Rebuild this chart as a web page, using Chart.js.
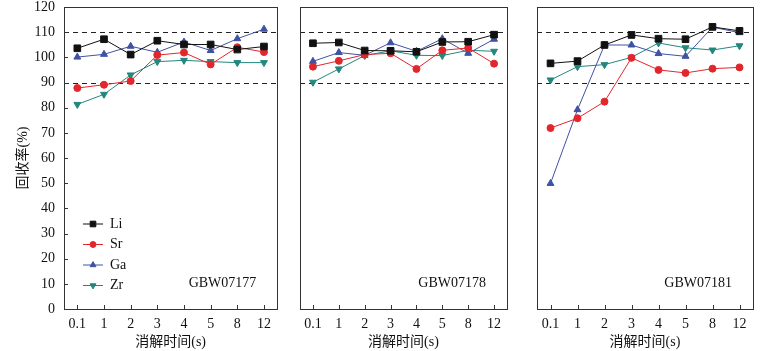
<!DOCTYPE html>
<html lang="zh">
<head>
    <meta charset="UTF-8">
    <title>回收率 vs 消解时间</title>
    <script src="https://cdn.jsdelivr.net/npm/chart.js"></script>
    <style>
        body { margin: 0; background: #fff; }
        #wrap { position: relative; width: 773px; height: 351px; }
        canvas { position: absolute; top: 0; }
    </style>
</head>
<body>
<div id="wrap">
    <canvas id="p1" width="283" height="351" style="left:0px"></canvas>
    <canvas id="p2" width="230" height="351" style="left:290px"></canvas>
    <canvas id="p3" width="246" height="351" style="left:527px"></canvas>
</div>
<script>
// digestion time categories (s)
const times = ['0.1', '1', '2', '3', '4', '5', '8', '12'];
const samples = ['GBW07177', 'GBW07178', 'GBW07181'];
const elements = ['Li', 'Sr', 'Ga', 'Zr'];

// recovery (%)
const li177 = [103.6, 107.2, 101.1, 106.6, 105.1, 105.1, 103.1, 104.3];
const sr177 = [87.8, 89.1, 90.6, 100.9, 101.9, 97.2, 104.0, 102.1];
const ga177 = [100.1, 101.2, 104.4, 102.0, 106.1, 102.7, 107.4, 111.2];
const zr177 = [81.3, 85.3, 93.0, 98.3, 98.8, 98.3, 97.9, 97.9];

const li178 = [105.6, 105.9, 102.7, 102.6, 102.2, 106.1, 106.2, 109.0];
const sr178 = [96.3, 98.6, 101.1, 101.6, 95.4, 102.8, 103.7, 97.5];
const ga178 = [98.4, 101.9, 100.8, 105.8, 102.4, 107.4, 101.6, 107.2];
const zr178 = [90.1, 95.4, 100.7, 102.6, 100.8, 100.7, 102.8, 102.4];

const li181 = [97.6, 98.5, 104.9, 108.9, 107.4, 107.2, 112.1, 110.5];
const sr181 = [71.9, 75.8, 82.4, 99.8, 95.0, 93.8, 95.5, 96.0];
const ga181 = [49.9, 79.2, 104.9, 104.9, 101.5, 100.4, 112.0, 109.8];
const zr181 = [91.0, 96.3, 97.1, 100.0, 105.7, 103.8, 102.9, 104.6];

const limits = [90, 110];
const yTicks = [0, 10, 20, 30, 40, 50, 60, 70, 80, 90, 100, 110, 120];

const colors = ['#111111', '#e3262c', '#3f52a3', '#23877e'];
const styles = [
    { pointStyle: 'rect', rotation: 0, radius: 4.7 },
    { pointStyle: 'circle', rotation: 0, radius: 3.5 },
    { pointStyle: 'triangle', rotation: 0, radius: 4 },
    { pointStyle: 'triangle', rotation: 180, radius: 4 }
];

const FONT = '"Liberation Serif", "Times New Roman", "Noto Sans CJK SC", serif';
const INK = '#111';
const FRAME = '#333';

function makeDatasets(series) {
    return series.map((vals, i) => ({
        label: elements[i],
        data: vals,
        borderColor: colors[i],
        backgroundColor: colors[i],
        borderWidth: 1,
        tension: 0,
        pointStyle: styles[i].pointStyle,
        rotation: styles[i].rotation,
        pointRadius: styles[i].radius,
        pointHoverRadius: styles[i].radius,
        pointBorderWidth: 1
    }));
}

// frame, inward ticks, dashed limit lines, sample name and legend
const decor = {
    id: 'decor',
    beforeDatasetsDraw(chart, args, opts) {
        const { ctx, chartArea: a, scales: { y } } = chart;
        ctx.save();
        ctx.strokeStyle = '#222';
        ctx.lineWidth = 1;
        ctx.setLineDash([5, 4]);
        limits.forEach(v => {
            const py = Math.round(y.getPixelForValue(v)) + 0.5;
            ctx.beginPath();
            ctx.moveTo(a.left, py);
            ctx.lineTo(a.right, py);
            ctx.stroke();
        });
        ctx.restore();
    },
    afterDraw(chart, args, opts) {
        const { ctx, chartArea: a, scales: { x, y } } = chart;
        ctx.save();
        ctx.strokeStyle = FRAME;
        ctx.lineWidth = 1;
        ctx.strokeRect(Math.round(a.left) + 0.5, Math.round(a.top) + 0.5,
            Math.round(a.right - a.left), Math.round(a.bottom - a.top));

        // x ticks pointing inward
        ctx.beginPath();
        x.ticks.forEach((t, i) => {
            const px = Math.round(x.getPixelForTick(i)) + 0.5;
            ctx.moveTo(px, a.bottom);
            ctx.lineTo(px, a.bottom - 4);
        });
        if (opts.yTicks) {
            y.ticks.forEach((t, i) => {
                const py = Math.round(y.getPixelForTick(i)) + 0.5;
                ctx.moveTo(a.left, py);
                ctx.lineTo(a.left + 4, py);
            });
        }
        ctx.stroke();

        ctx.fillStyle = INK;
        ctx.font = '14px ' + FONT;
        ctx.textAlign = 'right';
        ctx.textBaseline = 'middle';
        ctx.fillText(opts.name, a.right - 21, a.bottom - 26);

        if (opts.legend) {
            const h = Chart.helpers;
            chart.data.datasets.forEach((ds, i) => {
                const ly = a.top + 217 + i * 20.5;
                const lx = a.left + 19;
                ctx.strokeStyle = ds.borderColor;
                ctx.beginPath();
                ctx.moveTo(lx, ly);
                ctx.lineTo(lx + 20, ly);
                ctx.stroke();
                ctx.fillStyle = ds.backgroundColor;
                h.drawPoint(ctx, { pointStyle: ds.pointStyle, rotation: ds.rotation, radius: ds.pointRadius * 0.85, borderWidth: 1 }, lx + 10, ly);
                ctx.fillStyle = INK;
                ctx.textAlign = 'left';
                ctx.fillText(ds.label, lx + 27, ly);
            });
        }
        ctx.restore();
    }
};

function panel(id, series, name, first, pad) {
    new Chart(document.getElementById(id), {
        type: 'line',
        data: { labels: times, datasets: makeDatasets(series) },
        plugins: [decor],
        options: {
            responsive: false,
            animation: false,
            events: [],
            layout: { padding: { left: pad.left, right: pad.right, top: 7, bottom: 0 } },
            plugins: {
                legend: { display: false },
                tooltip: { enabled: false },
                decor: { name: name, legend: first, yTicks: first }
            },
            scales: {
                x: {
                    type: 'category',
                    offset: true,
                    grid: { display: false, drawTicks: false },
                    border: { display: false },
                    ticks: { color: INK, font: { family: FONT, size: 14 }, padding: 7, maxRotation: 0 },
                    title: { display: true, text: '消解时间(s)', color: INK, font: { family: FONT, size: 14 }, padding: { top: 0, bottom: 0 } },
                    afterFit(s) { s.height = 42; s.paddingLeft = 0; s.paddingRight = 0; }
                },
                y: {
                    display: first,
                    min: 0,
                    max: 120,
                    afterBuildTicks(s) { s.ticks = yTicks.map(v => ({ value: v })); },
                    grid: { display: false, drawTicks: false },
                    border: { display: false },
                    ticks: { color: INK, font: { family: FONT, size: 14 }, padding: 9 },
                    title: { display: true, text: '回收率(%)', color: INK, font: { family: FONT, size: 14 }, padding: { top: 15, bottom: 0 } },
                    afterFit(s) {
                        if (first) s.width = 64;
                        s.paddingTop = 0;
                        s.paddingBottom = 0;
                    }
                }
            }
        }
    });
}

panel('p1', [li177, sr177, ga177, zr177], samples[0], true, { left: 0, right: 2 });
panel('p2', [li178, sr178, ga178, zr178], samples[1], false, { left: 10, right: 13 });
panel('p3', [li181, sr181, ga181, zr181], samples[2], false, { left: 10, right: 20 });
</script>
</body>
</html>
